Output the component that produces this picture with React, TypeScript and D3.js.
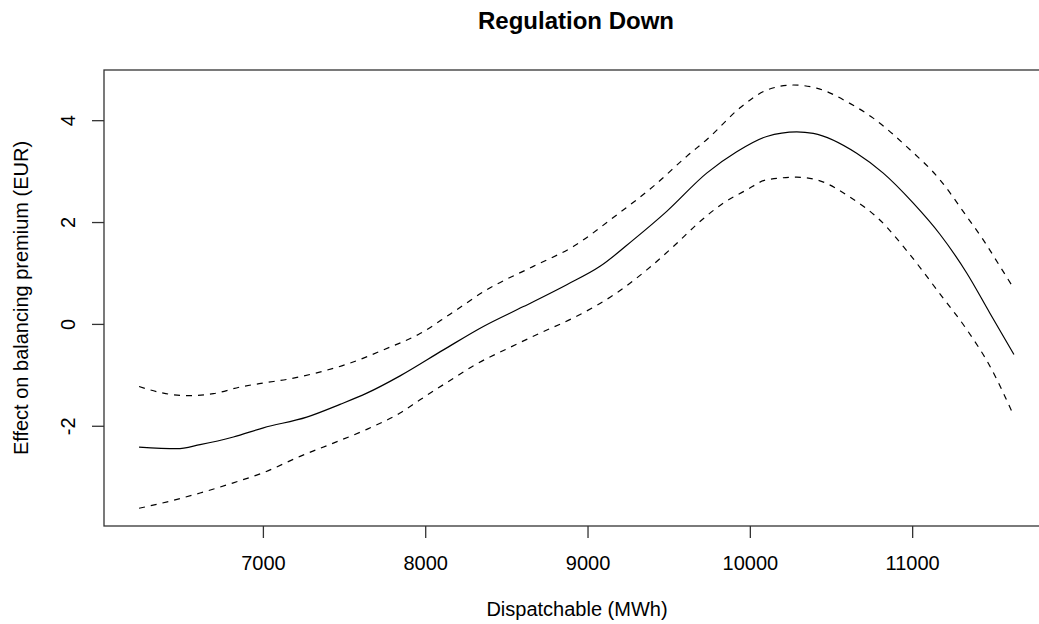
import React from "react";
import * as d3 from "d3";

const fitX = [6234, 6467, 6610, 6815, 7000, 7267, 7472, 7637, 7842, 8109, 8355, 8602, 8869, 9074, 9279, 9485, 9731, 9916, 10101, 10286, 10388, 10655, 10819, 11004, 11168, 11333, 11476, 11624];
const fitY = [-2.41, -2.44, -2.36, -2.21, -2.03, -1.82, -1.57, -1.35, -1.01, -0.5, -0.04, 0.35, 0.78, 1.14, 1.66, 2.22, 2.97, 3.39, 3.69, 3.78, 3.75, 3.36, 2.97, 2.38, 1.77, 1.01, 0.22, -0.59];

const upperX = [6234, 6384, 6528, 6692, 6856, 7000, 7144, 7329, 7534, 7739, 7965, 8150, 8376, 8663, 8909, 9177, 9402, 9608, 9739, 9943, 10101, 10264, 10408, 10613, 10757, 10963, 11168, 11333, 11435, 11538, 11624];
const upperY = [-1.22, -1.35, -1.4, -1.36, -1.23, -1.15, -1.08, -0.95, -0.76, -0.5, -0.18, 0.2, 0.68, 1.14, 1.53, 2.15, 2.71, 3.3, 3.65, 4.27, 4.6, 4.7, 4.64, 4.34, 4.05, 3.49, 2.84, 2.12, 1.66, 1.14, 0.7];

const lowerX = [6234, 6425, 6610, 6815, 7000, 7226, 7431, 7637, 7842, 7965, 8150, 8300, 8520, 8705, 8930, 9177, 9362, 9526, 9690, 9833, 9977, 10101, 10286, 10408, 10613, 10798, 10963, 11168, 11333, 11476, 11624];
const lowerY = [-3.61, -3.47, -3.31, -3.11, -2.91, -2.59, -2.33, -2.06, -1.74, -1.48, -1.1, -0.8, -0.45, -0.17, 0.16, 0.62, 1.07, 1.53, 2.02, 2.38, 2.64, 2.84, 2.89, 2.84, 2.5, 2.05, 1.45, 0.6, -0.1, -0.82, -1.8];

const xTicks = [7000, 8000, 9000, 10000, 11000];
const yTicks = [-2, 0, 2, 4];

const title = "Regulation Down";
const xLabel = "Dispatchable (MWh)";
const yLabel = "Effect on balancing premium (EUR)";

const W = 1039;
const H = 624;
const left = 104;
const right = 1049;
const top = 70;
const bottom = 526;
const font = "'Liberation Sans', Arial, sans-serif";

export default function App() {
  const x = d3.scaleLinear().domain([6018, 11840]).range([left, right]);
  const y = d3.scaleLinear().domain([-3.958, 4.995]).range([bottom, top]);
  const line = d3
    .line<[number, number]>()
    .x((d) => x(d[0]))
    .y((d) => y(d[1]))
    .curve(d3.curveMonotoneX);
  const zip = (a: number[], b: number[]) => a.map((v, i) => [v, b[i]] as [number, number]);

  return (
    <svg width={W} height={H} style={{ position: "absolute", left: 0, top: 0, background: "#fff" }}>
      <rect x={0} y={0} width={W} height={H} fill="#fff" />
      <text x={576} y={29} textAnchor="middle" fontFamily={font} fontWeight="bold" fontSize={24} fill="#000">
        {title}
      </text>
      <rect x={left} y={top} width={right - left} height={bottom - top} fill="none" stroke="#333" strokeWidth={1.3} />
      {xTicks.map((t) => (
        <g key={t}>
          <line x1={x(t)} x2={x(t)} y1={bottom} y2={bottom + 12} stroke="#333" strokeWidth={1.3} />
          <text x={x(t)} y={570} textAnchor="middle" fontFamily={font} fontSize={20} fill="#000">
            {t}
          </text>
        </g>
      ))}
      {yTicks.map((t) => (
        <g key={t}>
          <line x1={left - 12} x2={left} y1={y(t)} y2={y(t)} stroke="#333" strokeWidth={1.3} />
          <text
            transform={`translate(75,${y(t)}) rotate(-90)`}
            textAnchor="middle"
            fontFamily={font}
            fontSize={20}
            fill="#000"
          >
            {t}
          </text>
        </g>
      ))}
      <text x={577} y={616} textAnchor="middle" fontFamily={font} fontSize={20} fill="#000">
        {xLabel}
      </text>
      <text transform={`translate(28,298) rotate(-90)`} textAnchor="middle" fontFamily={font} fontSize={20} fill="#000">
        {yLabel}
      </text>
      <path d={line(zip(fitX, fitY)) || ""} fill="none" stroke="#000" strokeWidth={1.2} />
      <path d={line(zip(upperX, upperY)) || ""} fill="none" stroke="#000" strokeWidth={1.2} strokeDasharray="6,6" />
      <path d={line(zip(lowerX, lowerY)) || ""} fill="none" stroke="#000" strokeWidth={1.2} strokeDasharray="6,6" />
    </svg>
  );
}
